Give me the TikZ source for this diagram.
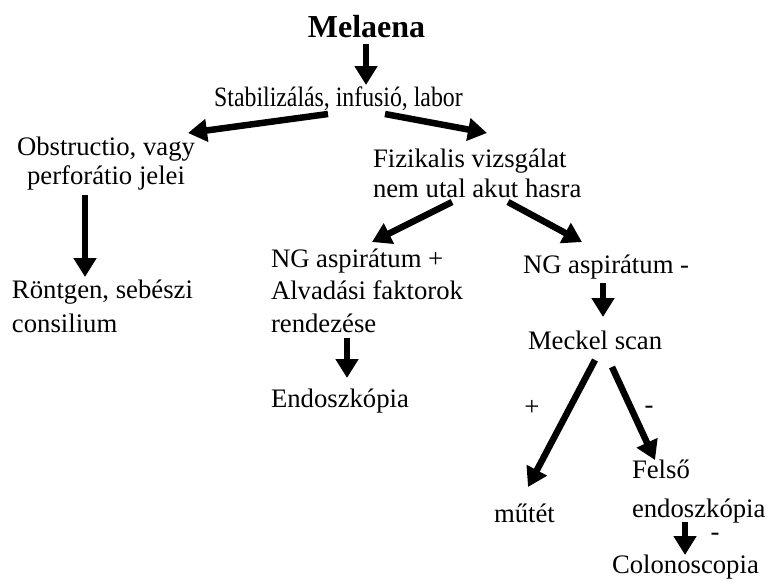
\documentclass[tikz,border=0pt]{standalone}
\usepackage{fontspec}
\setmainfont{Liberation Serif}
\newfontfamily\stabfont[FakeStretch=0.85]{Liberation Serif}
\usetikzlibrary{arrows.meta,calc}
\begin{document}
\begin{tikzpicture}[x=1pt,y=-1pt,
  txt/.style={inner sep=0pt,outer sep=0pt,font=\fontsize{26.7}{32.5}\selectfont},
  arr/.style={line width=6.5pt,-{Triangle[length=19pt,width=22pt]}},
  lbl/.style={inner sep=0pt,font=\fontsize{26.7}{32.5}\selectfont}]
\useasboundingbox[fill=white] (0,0) rectangle (767,587);
% multi-line nodes: base anchor = baseline of last line
\node[txt,anchor=base,font=\fontsize{32}{38}\selectfont\bfseries] (mel) at (366.5,37) {Melaena};
\node[txt,anchor=base,font=\stabfont\fontsize{28}{32}\selectfont] (stab) at (338.5,106) {Stabilizálás, infusió, labor};
\node[txt,anchor=base,align=center,font=\fontsize{26.7}{29}\selectfont] (obs) at (106,184) {Obstructio, vagy\\perforátio jelei};
\node[txt,anchor=base west,align=left,font=\fontsize{26.7}{34}\selectfont] (ront) at (12,332) {Röntgen, sebészi\\consilium};
\node[txt,anchor=base west,align=left,font=\fontsize{26.7}{30}\selectfont] (fiz) at (373,197) {Fizikalis vizsgálat\\nem utal akut hasra};
\node[txt,anchor=base west,align=left] (ngp) at (271,332) {NG aspirátum +\\Alvadási faktorok\\rendezése};
\node[txt,anchor=base west] (endo) at (271,407) {Endoszkópia};
\node[txt,anchor=base west] (ngm) at (523,273) {NG aspirátum -};
\node[txt,anchor=base west] (meck) at (528,349) {Meckel scan};
\node[txt,anchor=base west] (mutet) at (494,522) {műtét};
\node[txt,anchor=base west,align=left,font=\fontsize{26.7}{39}\selectfont] (felso) at (632,517) {Felső\\endoszkópia};
\node[txt,anchor=base west] (colon) at (612,573) {Colonoscopia};
\node[lbl] (lp) at (532,408) {+};
\node[lbl] (lm1) at (649,410) {-};
\node[lbl] (lm2) at (715,537) {-};
\draw[arr] ($(mel.base)+(-0.5,7)$) -- ($(stab.base)+(27.5,-21)$);
\draw[arr] ($(stab.base)+(-10.5,8)$) -- ($(obs.base)+(82,-51)$);
\draw[arr] ($(stab.base)+(46.5,8)$) -- ($(fiz.base west)+(114,-64)$);
\draw[arr] ($(obs.base)+(-21,11)$) -- ($(ront.base west)+(73,-55)$);
\draw[arr] ($(fiz.base west)+(79,5)$) -- ($(ngp.base west)+(101,-90)$);
\draw[arr] ($(fiz.base west)+(135,5)$) -- ($(ngm.base west)+(59,-31)$);
\draw[arr] ($(ngp.base west)+(76,6)$) -- ($(endo.base west)+(76,-29)$);
\draw[arr] ($(ngm.base west)+(80,10)$) -- ($(meck.base west)+(75,-32)$);
\draw[arr] ($(meck.base west)+(67,11)$) -- ($(mutet.base west)+(34,-35)$);
\draw[arr] ($(meck.base west)+(84,18)$) -- ($(felso.base west)+(23,-57)$);
\draw[arr] ($(felso.base west)+(53,5)$) -- ($(colon.base west)+(73,-18)$);
\end{tikzpicture}
\end{document}
